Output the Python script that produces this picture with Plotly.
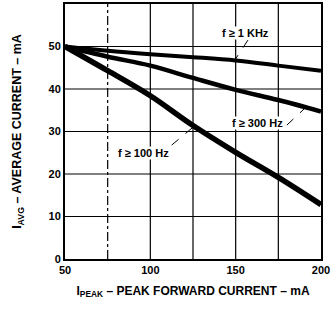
import plotly.graph_objects as go

x_vals = [50, 75, 100, 125, 150, 175, 200]
f_1khz = [50, 49.0, 48.2, 47.5, 46.7, 45.5, 44.3]
f_300hz = [50, 47.6, 45.5, 42.6, 39.8, 37.4, 34.7]
f_100hz = [50, 44.3, 38.4, 31.4, 25.1, 19.2, 12.8]

x_ticks = [50, 100, 150, 200]
y_ticks = [0, 10, 20, 30, 40, 50]
x_grid = [75, 100, 125, 150, 175]
x_grid_dash = ["dashdot", "solid", "solid", "solid", "solid"]
y_grid = [10, 20, 30, 40, 50]

font = "Liberation Sans, Arial, sans-serif"

fig = go.Figure()
for ys, w in [(f_1khz, 4), (f_300hz, 4.5), (f_100hz, 5.5)]:
    fig.add_trace(go.Scatter(x=x_vals, y=ys, mode="lines",
                             line=dict(color="black", width=w, shape="spline"),
                             showlegend=False, hoverinfo="skip"))

shapes = []
for gx, d in zip(x_grid, x_grid_dash):
    shapes.append(dict(type="line", xref="x", yref="y", x0=gx, x1=gx, y0=0, y1=60,
                       line=dict(color="black", width=1.2, dash=d), layer="below"))
for gy in y_grid:
    shapes.append(dict(type="line", xref="x", yref="y", x0=50, x1=200, y0=gy, y1=gy,
                       line=dict(color="black", width=1.2), layer="below"))

labels = [
    dict(x=156, y=53.2, text="f ≥ 1 KHz"),
    dict(x=162.5, y=32.0, text="f ≥ 300 Hz"),
    dict(x=96, y=24.9, text="f ≥ 100 Hz"),
]
annotations = []
for a in labels:
    annotations.append(dict(x=a["x"], y=a["y"], xref="x", yref="y", text=a["text"],
                            showarrow=False,
                            font=dict(family=font, size=11, color="black", weight="bold"),
                            bgcolor="white", borderpad=0))

# leader lines
leaders = [((157.2, 51.5), (149.8, 47.0)), ((180, 31.5), (190.6, 35.5)), ((112.5, 26.8), (124.4, 30.8))]
for (x0, y0), (x1, y1) in leaders:
    shapes.append(dict(type="line", xref="x", yref="y", x0=x0, y0=y0, x1=x1, y1=y1,
                       line=dict(color="black", width=1, dash="dash")))

fig.update_layout(
    width=334, height=309,
    margin=dict(l=65, r=13, t=4, b=50, autoexpand=False),
    paper_bgcolor="white", plot_bgcolor="white",
    shapes=shapes, annotations=annotations,
    font=dict(family=font, color="black"),
    xaxis=dict(range=[50, 200], tickvals=x_ticks, showgrid=False, zeroline=False,
               showline=True, linecolor="black", linewidth=2, mirror=True,
               automargin=False,
               tickfont=dict(family=font, size=11, weight="bold"), ticks="",
               title=dict(text="I<sub>PEAK</sub> – PEAK FORWARD CURRENT – mA",
                          font=dict(family=font, size=12, weight="bold"), standoff=11)),
    yaxis=dict(range=[0, 60], tickvals=y_ticks, showgrid=False, zeroline=False,
               showline=True, linecolor="black", linewidth=2, mirror=True,
               automargin=False,
               tickfont=dict(family=font, size=11, weight="bold"), ticks="",
               title=dict(text="I<sub>AVG</sub> – AVERAGE CURRENT – mA",
                          font=dict(family=font, size=12.5, weight="bold"), standoff=24)),
)

fig.write_html("out.html", config={"displayModeBar": False},
               post_script="document.body.style.margin='0';document.body.style.overflow='hidden';")
